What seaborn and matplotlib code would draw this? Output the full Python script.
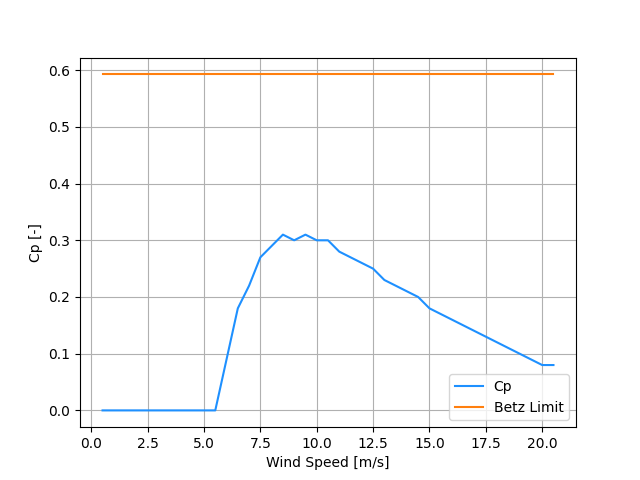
import matplotlib
matplotlib.use("Agg")
import matplotlib.pyplot as plt
import seaborn as sns
import numpy as np
import pandas as pd

wind_speed = [0.5, 1.0, 1.5, 2.0, 2.5, 3.0, 3.5, 4.0, 4.5, 5.0, 5.5, 6.0, 6.5, 7.0, 7.5,
              8.0, 8.5, 9.0, 9.5, 10.0, 10.5, 11.0, 11.5, 12.0, 12.5, 13.0, 13.5, 14.0,
              14.5, 15.0, 15.5, 16.0, 16.5, 17.0, 17.5, 18.0, 18.5, 19.0, 19.5, 20.0, 20.5]
cp = [0, 0, 0, 0, 0, 0, 0, 0, 0, 0, 0, 0.09, 0.18, 0.22, 0.27,
      0.29, 0.31, 0.30, 0.31, 0.30, 0.30, 0.28, 0.27, 0.26, 0.25, 0.23, 0.22, 0.21,
      0.20, 0.18, 0.17, 0.16, 0.15, 0.14, 0.13, 0.12, 0.11, 0.10, 0.09, 0.08, 0.08]
betz = 16 / 27

df = pd.DataFrame({"ws": wind_speed, "cp": cp, "betz": [betz] * len(wind_speed)})

fig, ax = plt.subplots(figsize=(6.4, 4.8), dpi=100)
sns.lineplot(data=df, x="ws", y="cp", ax=ax, color="#1e90ff", label="Cp")
sns.lineplot(data=df, x="ws", y="betz", ax=ax, color="#ff7f0e", label="Betz Limit")
ax.set_xlabel("Wind Speed [m/s]")
ax.set_ylabel("Cp [-]")
ax.grid(True)
ax.legend(loc="lower right")
fig.savefig("out.png", dpi=100)
